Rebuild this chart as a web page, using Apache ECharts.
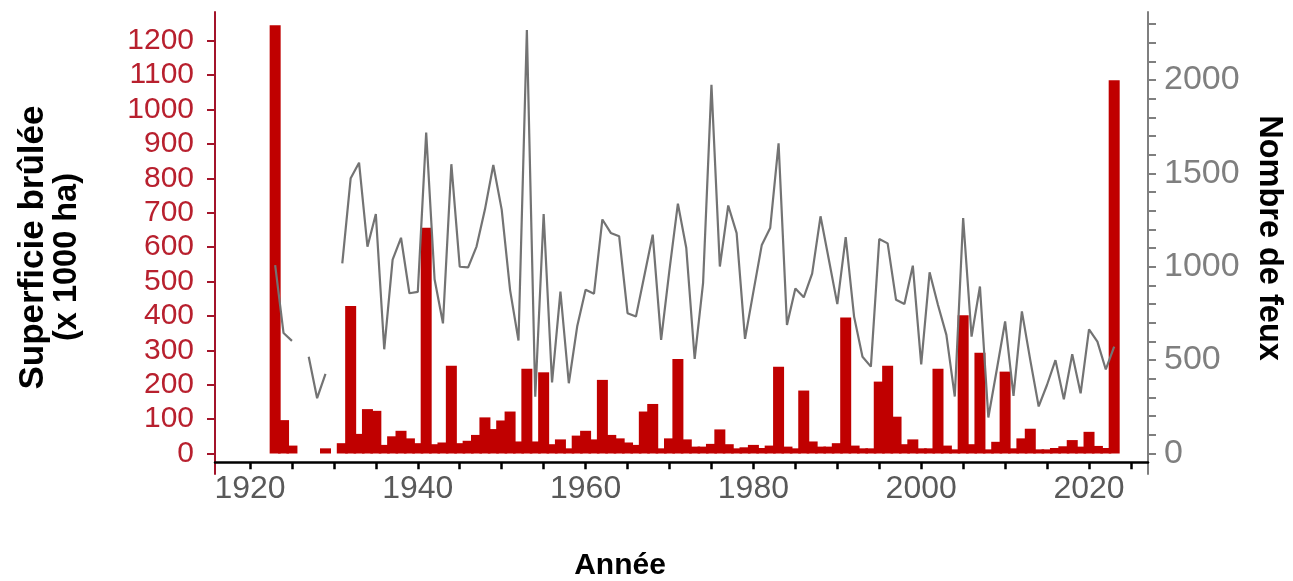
<!DOCTYPE html>
<html>
<head>
<meta charset="utf-8">
<script src="https://cdn.jsdelivr.net/npm/echarts@6/dist/echarts.min.js"></script>
<style>html,body{margin:0;padding:0;background:#fff;}#c{width:1293px;height:581px;}</style>
</head>
<body>
<div id="c"></div>
<script>
// Years (x axis)
const years = [
  1923,1924,1925,1926,1927,1928,1929,1930,
  1931,1932,1933,1934,1935,1936,1937,1938,1939,1940,
  1941,1942,1943,1944,1945,1946,1947,1948,1949,1950,
  1951,1952,1953,1954,1955,1956,1957,1958,1959,1960,
  1961,1962,1963,1964,1965,1966,1967,1968,1969,1970,
  1971,1972,1973,1974,1975,1976,1977,1978,1979,1980,
  1981,1982,1983,1984,1985,1986,1987,1988,1989,1990,
  1991,1992,1993,1994,1995,1996,1997,1998,1999,2000,
  2001,2002,2003,2004,2005,2006,2007,2008,2009,2010,
  2011,2012,2013,2014,2015,2016,2017,2018,2019,2020,
  2021,2022,2023
];
// Superficie brûlée (x 1000 ha)
const areas = [
  1245,97,23,null,null,null,15,null,
  30,429,57,129,124,25,50,66,44,30,
  656,27,32,255,30,37,54,105,71,96,
  122,35,246,35,236,27,41,15,52,66,
  41,214,54,44,32,25,122,144,15,44,
  275,41,20,20,28,70,27,15,18,25,
  16,23,252,20,15,183,35,20,20,30,
  395,23,15,15,209,255,107,27,41,15,
  15,246,23,12,402,27,293,12,34,238,
  15,44,72,12,12,16,21,39,20,63,
  22,16,1085
];
// Nombre de feux
const fires = [
  1009,645,603,null,518,296,426,null,
  1018,1474,1557,1107,1282,558,1038,1155,858,865,
  1718,933,697,1549,1000,997,1108,1306,1545,1306,
  875,605,2267,304,1282,381,867,376,681,877,
  856,1253,1181,1163,751,733,952,1172,608,984,
  1338,1100,506,912,1974,1001,1328,1180,614,867,
  1117,1207,1661,688,884,836,963,1270,1036,800,
  1158,733,518,465,1148,1125,823,800,1006,477,
  970,795,635,305,1261,626,894,193,447,707,
  309,761,500,252,368,500,290,531,322,665,
  599,450,572
];
// Tick values
const xTicks = [1920,1925,1930,1935,1940,1945,1950,1955,1960,1965,1970,1975,1980,1985,1990,1995,2000,2005,2010,2015,2020,2025];
const xLabels = [1920,1940,1960,1980,2000,2020];
const leftTicks = [0,100,200,300,400,500,600,700,800,900,1000,1100,1200];
const rightTicks = [0,100,200,300,400,500,600,700,800,900,1000,1100,1200,1300,1400,1500,1600,1700,1800,1900,2000,2100,2200,2300];
const rightLabels = [0,500,1000,1500,2000];

const FONT = '"Liberation Sans", Arial, sans-serif';
const plain = v => String(Math.round(v));

// bars: taller bars drawn on top of shorter neighbours
const barData = years.map((y, i) => [y, areas[i]]).filter(d => d[1] !== null)
  .sort((a, b) => a[1] - b[1]);
const lineData = years.map((y, i) => [y, fires[i] === null ? '-' : fires[i]]);

const chart = echarts.init(document.getElementById('c'), null, {renderer: 'canvas'});
chart.setOption({
  animation: false,
  backgroundColor: '#fff',
  grid: {left: 215, right: 145, top: 12, bottom: 107, containLabel: false},
  xAxis: {
    type: 'value',
    min: 1915.83, max: 2027.03,
    offset: -11.7,
    splitLine: {show: false},
    axisLine: {show: true, onZero: false, lineStyle: {color: '#000', width: 2.5}},
    axisTick: {show: true, customValues: xTicks, length: 7, lineStyle: {color: '#000', width: 2.5}},
    axisLabel: {customValues: xLabels, formatter: plain, color: '#595959', fontSize: 32, fontFamily: FONT, margin: 11}
  },
  yAxis: [{
    type: 'value',
    position: 'left',
    min: -59.6, max: 1283.4,
    splitLine: {show: false},
    axisLine: {show: true, lineStyle: {color: '#a3142a', width: 2}},
    axisTick: {show: true, customValues: leftTicks, length: 8, lineStyle: {color: '#a3142a', width: 2}},
    axisLabel: {customValues: leftTicks, formatter: plain, color: '#b8202e', fontSize: 30, fontFamily: FONT, margin: 21}
  }, {
    type: 'value',
    position: 'right',
    min: -109.8, max: 2364,
    splitLine: {show: false},
    axisLine: {show: true, lineStyle: {color: '#7f7f7f', width: 2}},
    axisTick: {show: true, customValues: rightTicks, length: 8, lineStyle: {color: '#7f7f7f', width: 2}},
    axisLabel: {customValues: rightLabels, formatter: plain, color: '#7f7f7f', fontSize: 34, fontFamily: FONT, margin: 16}
  }],
  series: [{
    name: 'Superficie brûlée',
    type: 'bar',
    yAxisIndex: 0,
    data: barData,
    barWidth: 11,
    itemStyle: {color: '#c00000'},
    z: 2
  }, {
    name: 'Nombre de feux',
    type: 'line',
    yAxisIndex: 1,
    data: lineData,
    showSymbol: false,
    connectNulls: false,
    lineStyle: {color: '#737373', width: 2.2},
    z: 3
  }],
  graphic: [{
    type: 'text', x: 33, y: 247.5, rotation: Math.PI / 2,
    style: {text: 'Superficie brûlée', fill: '#000', fontSize: 35, fontWeight: 'bold',
      fontFamily: FONT, align: 'center', verticalAlign: 'middle'}
  }, {
    type: 'text', x: 67.5, y: 257, rotation: Math.PI / 2,
    style: {text: '(x 1000 ha)', fill: '#000', fontSize: 32.5, fontWeight: 'bold',
      fontFamily: FONT, align: 'center', verticalAlign: 'middle'}
  }, {
    type: 'text', x: 1269, y: 238, rotation: -Math.PI / 2,
    style: {text: 'Nombre de feux', fill: '#000', fontSize: 32.5, fontWeight: 'bold',
      fontFamily: FONT, align: 'center', verticalAlign: 'middle'}
  }, {
    type: 'text', x: 620, y: 566,
    style: {text: 'Année', fill: '#000', fontSize: 30, fontWeight: 'bold',
      fontFamily: FONT, align: 'center', verticalAlign: 'middle'}
  }]
});
</script>
</body>
</html>
